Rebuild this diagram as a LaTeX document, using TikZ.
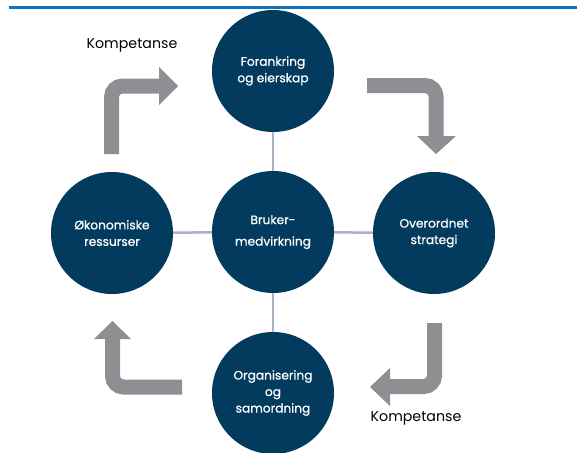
\documentclass[tikz,border=0pt]{standalone}
\usepackage{fontspec}
\setmainfont{Poppins}
\newfontfamily\semifont{Poppins}[FakeBold=0.8]
\definecolor{navy}{HTML}{023B5E}
\definecolor{linkc}{HTML}{A9B1C3}
\definecolor{arrowc}{HTML}{8E8F93}
\definecolor{topline}{HTML}{1173BD}
\begin{document}
\begin{tikzpicture}[x=1pt,y=-1pt,
  bubble/.style={circle,fill=navy,minimum size=122pt,inner sep=0pt,text=white,align=center,font=\semifont\fontsize{12.2}{16.5}\selectfont},
  link/.style={draw=linkc,line width=2.5pt},
  shaft/.style={draw=arrowc,line width=15pt,rounded corners=11pt},
  head/.style={fill=arrowc},
  lbl/.style={font=\fontsize{14.2}{16}\selectfont,text=black}]
\useasboundingbox (0,0) rectangle (577,452);
\draw[topline,line width=3pt] (9,7.5) -- (577,7.5);
\node[bubble] (top) at (273,71) {Forankring\\og eierskap};
\node[bubble] (mid) at (273,232) {Bruker-\\[5pt]medvirkning};
\node[bubble] (left) at (112,233) {Økonomiske\\ressurser};
\node[bubble] (right) at (434,233) {Overordnet\\strategi};
\node[bubble] (bot) at (273,393) {Organisering\\og\\samordning};
\draw[link] (top) -- (mid);
\draw[link] (mid) -- (bot);
\draw[link] (left) -- (mid);
\draw[link] (mid) -- (right);
% top-left arrow
\draw[shaft] (111.5,154) -- (111.5,86) -- (160,86);
\fill[head] (159,67) -- (178,86) -- (159,105) -- cycle;
% top-right arrow
\draw[shaft] (367,85.5) -- (436,85.5) -- (436,137);
\fill[head] (417,136) -- (456,136) -- (436,154) -- cycle;
% bottom-right arrow
\draw[shaft] (434.5,323) -- (434.5,386.5) -- (389,386.5);
\fill[head] (390,368) -- (370,387) -- (390,406) -- cycle;
% bottom-left arrow
\draw[shaft] (182,387) -- (112.5,387) -- (112.5,338);
\fill[head] (94,339) -- (131,339) -- (112.5,321) -- cycle;
\node[lbl] (k1) at (132,45) {Kompetanse};
\node[lbl] (k2) at (416,418) {Kompetanse};
\end{tikzpicture}
\end{document}
